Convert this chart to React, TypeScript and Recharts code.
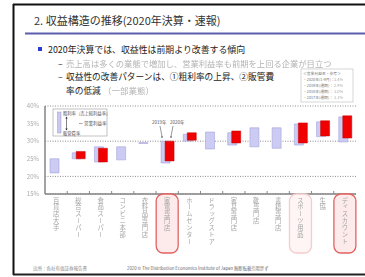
import React from "react";
import { BarChart, Bar, XAxis, YAxis, CartesianGrid } from "recharts";

// 業態（縦書きラベル）
const categories = [
  "百貨店大手",
  "総合スーパー",
  "食品スーパー",
  "コンビニ本部",
  "衣料品専門店",
  "家電専門店",
  "ホームセンター",
  "ドラッグストア",
  "家具専門店",
  "靴専門店",
  "書籍専門店",
  "スポーツ用品",
  "生協",
  "ディスカウント",
];

// 販管費率（下端）〜粗利率（上端）, %
const range2019: ([number, number] | null)[] = [
  [21.0, 25.0],
  [25.0, 26.7],
  [24.1, 28.4],
  [24.7, 28.4],
  [29.35, 29.6],
  [23.8, 30.0],
  [30.0, 32.0],
  [27.8, 32.6],
  [28.9, 32.4],
  [28.4, 33.8],
  [28.0, 33.8],
  [28.9, 34.9],
  [31.3, 35.5],
  [29.8, 36.9],
];

const range2020: ([number, number] | null)[] = [
  null,
  [25.0, 27.1],
  [24.1, 28.0],
  null,
  null,
  [24.4, 30.0],
  [30.3, 32.4],
  null,
  [29.5, 32.9],
  null,
  null,
  [29.5, 35.2],
  [31.5, 35.8],
  [30.9, 37.2],
];

const yTicks = [15, 20, 25, 30, 35, 40];

// 強調枠 0: なし, 1: 薄い, 2: 強い
const highlight = [0, 0, 0, 0, 0, 2, 0, 0, 0, 0, 0, 1, 0, 2];

const data = categories.map((name, i) => ({
  name,
  y2019: range2019[i],
  y2020: range2020[i],
}));

const FONT = "'Noto Sans CJK JP', 'Noto Sans', sans-serif";
const blur = { filter: "blur(0.5px)" };

function CategoryTick(props: any) {
  const { x, y, payload, width, visibleTicksCount } = props;
  const i = categories.indexOf(payload.value);
  const band = width / visibleTicksCount;
  const hl = highlight[i];
  return (
    <g>
      {hl > 0 && (
        <rect
          x={x - 11}
          y={y}
          width={22}
          height={59}
          rx={7}
          fill={hl === 2 ? "#fdeaea" : "#fff5f5"}
          stroke={hl === 2 ? "#e26262" : "#f4cccc"}
          strokeWidth={1.3}
        />
      )}
      {i < categories.length - 1 && (
        <line x1={x + band / 2} x2={x + band / 2} y1={y} y2={y - 3} stroke="#888" strokeWidth={1} />
      )}
      <text
        x={x}
        y={y + 3}
        fontSize={6.3}
        fill="#a5a5a5"
        fontFamily={FONT}
        style={{ writingMode: "vertical-rl", filter: "blur(0.6px)", letterSpacing: 0.6 }}
      >
        {payload.value}
      </text>
    </g>
  );
}

export default function App() {
  return (
    <div style={{ position: "absolute", left: 0, top: 0, width: 365, height: 277, background: "#fff", fontFamily: FONT }}>
      <div style={{ position: "absolute", left: 0, top: 0 }}>
        <BarChart
          width={365}
          height={277}
          data={data}
          margin={{ top: 106, right: 9, bottom: 23, left: 25 }}
          barSize={9}
          barGap={-5}
        >
          <CartesianGrid vertical={false} stroke="#8c8c8c" strokeDasharray="1 1.5" />
          <XAxis
            dataKey="name"
            interval={0}
            height={60}
            tickLine={false}
            tickSize={0}
            tickMargin={0}
            axisLine={{ stroke: "#858585", strokeWidth: 1.5 }}
            tick={<CategoryTick />}
          />
          <XAxis
            xAxisId="top"
            dataKey="name"
            orientation="top"
            height={0}
            tick={false}
            tickLine={false}
            axisLine={{ stroke: "#858585", strokeWidth: 1.5 }}
          />
          <YAxis
            domain={[15, 40]}
            ticks={yTicks}
            allowDataOverflow
            width={20}
            tickLine={false}
            tickSize={4}
            tickMargin={2}
            axisLine={{ stroke: "#858585", strokeWidth: 1.5 }}
            tickFormatter={(v: number) => `${v}%`}
            tick={{ fontSize: 6, fill: "#aaa", fontFamily: FONT, style: blur }}
          />
          <YAxis
            yAxisId="right"
            orientation="right"
            domain={[15, 40]}
            allowDataOverflow
            width={0}
            tick={false}
            tickLine={false}
            axisLine={{ stroke: "#858585", strokeWidth: 1.5 }}
          />
          <Bar dataKey="y2019" fill="#cbcbf3" stroke="#a3a3da" strokeWidth={0.6} isAnimationActive={false} />
          <Bar dataKey="y2020" fill="#f00000" stroke="#c00000" strokeWidth={0.5} isAnimationActive={false} />
        </BarChart>
      </div>

      <svg width={365} height={277} style={{ position: "absolute", left: 0, top: 0, pointerEvents: "none" }} fontFamily={FONT}>
        {/* 枠 */}
        <line x1={13.5} y1={4} x2={13.5} y2={275} stroke="#111" strokeWidth={2} />
        <line x1={13} y1={4.5} x2={365} y2={4.5} stroke="#111" strokeWidth={2} />
        <line x1={13} y1={274.5} x2={365} y2={274.5} stroke="#222" strokeWidth={2} />

        {/* タイトル */}
        <text x={34} y={25} fontSize={11} fill="#333">2. 収益構造の推移(2020年決算・速報)</text>
        <rect x={25} y={32.5} width={340} height={2} fill="#5a5eac" />

        {/* 本文 */}
        <rect x={38} y={47} width={4} height={4} fill="#2b3bd0" />
        <text x={48} y={52.5} fontSize={8.9} fill="#222">2020年決算では、収益性は前期より改善する傾向</text>
        <text x={58} y={66.5} fontSize={8.7} fill="#222">–</text>
        <text x={66} y={66.5} fontSize={8.3} fill="#b3b3b3" style={blur}>売上高は多くの業態で増加し、営業利益率も前期を上回る企業が目立つ</text>
        <text x={58} y={80} fontSize={8.7} fill="#222">–</text>
        <text x={66} y={80} fontSize={8.7} fill="#222">収益性の改善パターンは、①粗利率の上昇、②販管費</text>
        <text x={66} y={94} fontSize={8.7} fill="#222">率の低減</text>
        <text x={103} y={94} fontSize={8.5} fill="#b3b3b3" style={blur}>（一部業態）</text>

        {/* 右上の参考枠 */}
        <rect x={301} y={69} width={52} height={33} fill="#fff" stroke="#bbb" strokeWidth={0.6} />
        <text x={303} y={74.5} fontSize={3.8} fill="#777">＜営業利益率・参考＞</text>
        <text x={303} y={80.5} fontSize={3.8} fill="#777">・2020年(1-9月)：</text>
        <text x={303} y={86.5} fontSize={3.8} fill="#777">・2019年(通期)：</text>
        <text x={303} y={92.5} fontSize={3.8} fill="#777">・2018年(通期)：</text>
        <text x={303} y={98.5} fontSize={3.8} fill="#777">・2017年(通期)：</text>
        <text x={334} y={80.5} fontSize={4} fill="#aaa" style={blur}>3.4%</text>
        <text x={334} y={86.5} fontSize={4} fill="#aaa" style={blur}>2.9%</text>
        <text x={334} y={92.5} fontSize={4} fill="#aaa" style={blur}>3.0%</text>
        <text x={334} y={98.5} fontSize={4} fill="#aaa" style={blur}>3.1%</text>

        {/* 凡例 */}
        <rect x={53} y={109} width={54} height={27} fill="#fff" stroke="#999" strokeWidth={0.6} />
        <rect x={57.5} y={112} width={3.5} height={21} fill="#c8c8f0" stroke="#9a9ad0" strokeWidth={0.5} />
        <text x={63} y={114.5} fontSize={4.3} fill="#555">粗利率（売上総利益率）</text>
        <line x1={66.5} y1={117} x2={66.5} y2={130} stroke="#333" strokeWidth={0.6} />
        <path d="M65.3,118.5 L66.5,116.5 L67.7,118.5 Z M65.3,128.5 L66.5,130.5 L67.7,128.5 Z" fill="#333" />
        <line x1={79} y1={123.5} x2={82.5} y2={123.5} stroke="#555" strokeWidth={0.5} />
        <text x={84} y={125} fontSize={4.5} fill="#555">営業利益率</text>
        <text x={63} y={134.5} fontSize={4.3} fill="#555">販管費率</text>

        {/* 2019年・2020年の注記 */}
        <rect x={150} y={119} width={34} height={6.5} fill="#fff" />
        <text x={152} y={124} fontSize={4.5} fill="#555">2019年</text>
        <text x={170} y={124} fontSize={4.5} fill="#555">2020年</text>
        <line x1={160} y1={126} x2={162} y2={136.5} stroke="#333" strokeWidth={0.5} />
        <line x1={173} y1={126} x2={171} y2={136.5} stroke="#333" strokeWidth={0.5} />
        <circle cx={162} cy={137} r={0.8} fill="#333" />
        <circle cx={171} cy={137} r={0.8} fill="#333" />

        {/* 出所 */}
        <text x={33} y={269.5} fontSize={4.5} fill="#888">出所：各社有価証券報告書</text>
        <text x={127} y={270} fontSize={4.3} fill="#666">2020 © The Distribution Economics Institute of Japan 無断転載引用禁ず</text>
      </svg>
    </div>
  );
}
